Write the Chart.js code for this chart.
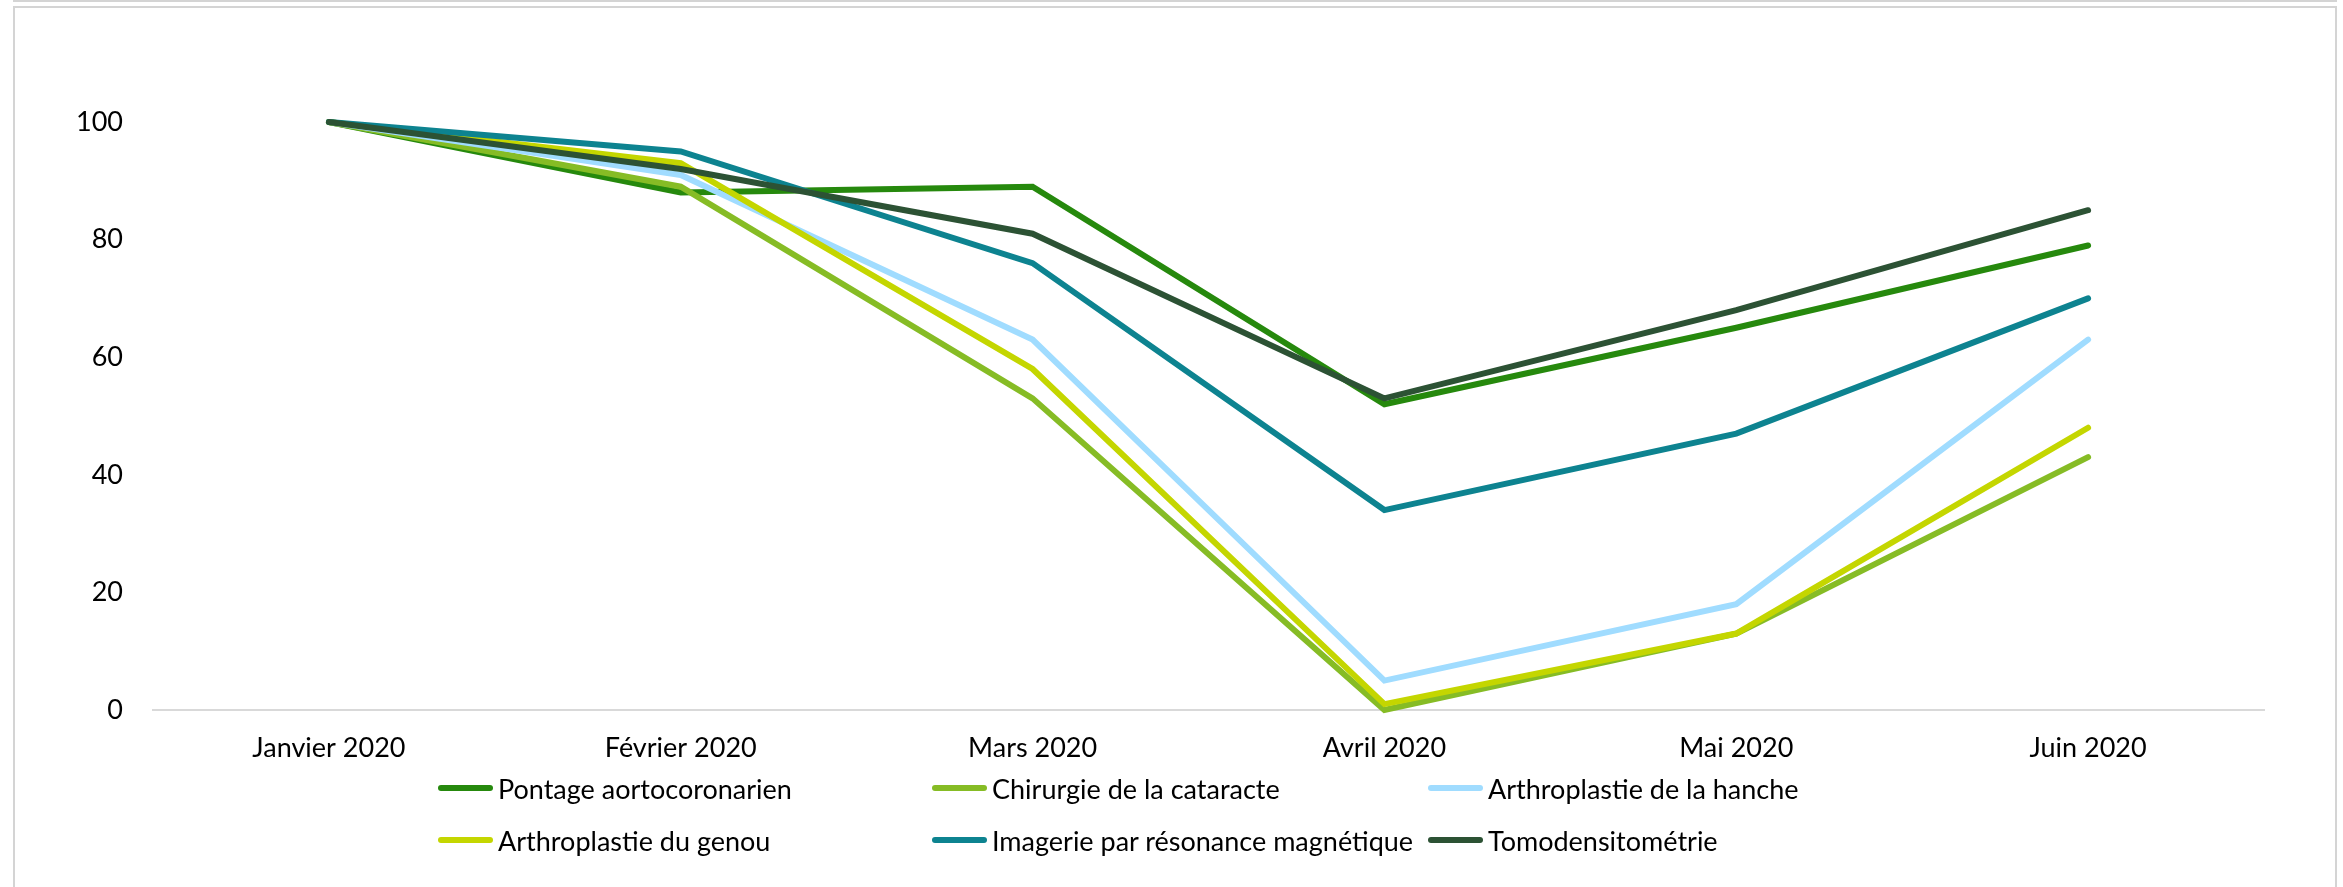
<!DOCTYPE html>
<html>
<head>
<meta charset="utf-8">
<script src="https://cdn.jsdelivr.net/npm/chart.js@4.4.1/dist/chart.umd.min.js"></script>
<style>
  html, body { margin: 0; padding: 0; background: #fff; overflow: hidden; }
  #wrap { position: relative; width: 2343px; height: 887px; }
  #topbox { position: absolute; left: 13px; top: -10px; width: 2320px; height: 10px;
            border: 2px solid #d4d4d4; border-top: none; }
  #box { position: absolute; left: 13px; top: 6px; width: 2320px; height: 900px;
         border: 2px solid #d4d4d4; border-bottom: none; }
  canvas { position: absolute; left: 0; top: 0; }
  #legend { position: absolute; left: 0; top: 0; width: 2343px; height: 887px; pointer-events: none;
            font-family: Lato, "Open Sans", sans-serif; font-size: 27px; color: #000; }
  .item { position: absolute; display: flex; align-items: center; height: 40px; white-space: nowrap; }
  .sample { width: 55px; height: 6px; border-radius: 3px; margin-right: 5px; }
</style>
</head>
<body>
<div id="wrap">
  <div id="topbox"></div>
  <div id="box"></div>
  <canvas id="c" width="2343" height="887"></canvas>
  <div id="legend"></div>
</div>
<script>
const categories = ["Janvier 2020", "Février 2020", "Mars 2020", "Avril 2020", "Mai 2020", "Juin 2020"];
const yTicks = [0, 20, 40, 60, 80, 100];

const seriesNames = [
  "Pontage aortocoronarien",
  "Chirurgie de la cataracte",
  "Arthroplastie de la hanche",
  "Arthroplastie du genou",
  "Imagerie par résonance magnétique",
  "Tomodensitométrie"
];
const pontage   = [100, 88, 89, 52, 65, 79];
const cataracte = [100, 89, 53, 0, 13, 43];
const hanche    = [100, 91, 63, 5, 18, 63];
const genou     = [100, 93, 58, 1, 13, 48];
const irm       = [100, 95, 76, 34, 47, 70];
const tomo      = [100, 92, 81, 53, 68, 85];
const seriesValues = [pontage, cataracte, hanche, genou, irm, tomo];
const seriesColors = ["#26890D", "#86BC25", "#A0DCFF", "#C4D600", "#0D8390", "#2C5234"];

const FONT = "Lato, 'Open Sans', sans-serif";

const datasets = seriesNames.map((name, i) => ({
  label: name,
  data: seriesValues[i],
  borderColor: seriesColors[i],
  backgroundColor: seriesColors[i],
  borderWidth: 6,
  pointRadius: 0,
  pointHoverRadius: 0,
  tension: 0,
  fill: false,
  borderCapStyle: 'round',
  borderJoinStyle: 'miter',
  clip: false,
  order: seriesNames.length - i
}));

new Chart(document.getElementById('c'), {
  type: 'line',
  data: { labels: categories, datasets },
  options: {
    responsive: false,
    animation: false,
    events: [],
    layout: { padding: { left: 13, right: 79, top: 122, bottom: 117 } },
    plugins: { legend: { display: false }, tooltip: { enabled: false }, title: { display: false } },
    scales: {
      x: {
        offset: true,
        grid: { display: false, drawTicks: false },
        border: { display: true, color: '#d9d9d9', width: 2 },
        ticks: { color: '#000', font: { family: FONT, size: 27 }, padding: 22, maxRotation: 0, autoSkip: false },
        afterFit(scale) { scale.height = 60; }
      },
      y: {
        min: 0, max: 100,
        afterBuildTicks(scale) { scale.ticks = yTicks.map(v => ({ value: v })); },
        grid: { display: false, drawTicks: false },
        border: { display: false },
        ticks: { color: '#000', font: { family: FONT, size: 27 }, padding: 30 },
        afterFit(scale) { scale.width = 140; }
      }
    }
  }
});

// Legend built from the series arrays, in a 3-column grid
const legend = document.getElementById('legend');
const colX = [438, 932, 1428];
const rowY = [788, 840];
seriesNames.forEach((name, i) => {
  const it = document.createElement('div');
  it.className = 'item';
  it.style.left = colX[i % 3] + 'px';
  it.style.top = (rowY[Math.floor(i / 3)] - 20) + 'px';
  const s = document.createElement('div');
  s.className = 'sample';
  s.style.background = seriesColors[i];
  const t = document.createElement('span');
  t.textContent = name;
  it.appendChild(s); it.appendChild(t);
  legend.appendChild(it);
});
</script>
</body>
</html>
